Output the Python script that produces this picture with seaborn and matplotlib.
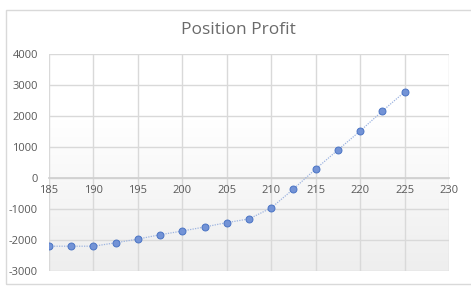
import numpy as np
import pandas as pd
import matplotlib
matplotlib.use("Agg")
import matplotlib.pyplot as plt
import seaborn as sns
from matplotlib.patches import Rectangle

price = [185, 187.5, 190, 192.5, 195, 197.5, 200, 202.5, 205, 207.5,
         210, 212.5, 215, 217.5, 220, 222.5, 225]
profit = [-2200, -2200, -2200, -2090, -1970, -1830, -1710, -1580, -1440, -1320,
          -965, -355, 290, 905, 1515, 2160, 2775]
x_ticks = [185, 190, 195, 200, 205, 210, 215, 220, 225, 230]
y_ticks = [-3000, -2000, -1000, 0, 1000, 2000, 3000, 4000]
title = "Position Profit"

df = pd.DataFrame({"Price": price, "Profit": profit})

sns.set_theme(style="white")
plt.rcParams['font.family'] = ['Open Sans', 'DejaVu Sans']

fig = plt.figure(figsize=(4.71, 2.95), dpi=100)
fig.patch.set_facecolor("white")
W, H = 471, 295
ax = fig.add_axes([49 / W, 1 - 271 / H, (449 - 49) / W, (271 - 54) / H])

# outer chart border
fig.patches.append(Rectangle((6 / W, 1 - 284 / H), 470 / W, (284 - 10) / H,
                             transform=fig.transFigure, fill=False,
                             edgecolor="#d9d9d9", linewidth=1.0))

# gradient background in plot area (white at top, light grey at bottom)
t = np.linspace(0, 1, 256)
g = np.clip(t / 0.7, 0, 1).reshape(-1, 1)
cmap = matplotlib.colors.LinearSegmentedColormap.from_list("g", ["#eeeeee", "#ffffff"])
ax.imshow(g, aspect="auto", cmap=cmap, origin="lower", vmin=0, vmax=1,
          extent=[185, 230, -3000, 4000], zorder=0)

sns.lineplot(data=df, x="Price", y="Profit", ax=ax, color="#9db4e0",
             linestyle=(0, (1, 1)), linewidth=0.9, marker="o", markersize=5,
             markerfacecolor="#7393d6", markeredgecolor="#4a74c4",
             markeredgewidth=0.7, zorder=3)

ax.set_xlim(185, 230)
ax.set_ylim(-3000, 4000)
ax.set_xticks(x_ticks)
ax.set_yticks(y_ticks)
ax.set_xticklabels([str(v) for v in x_ticks])
ax.set_yticklabels([str(v) for v in y_ticks])
ax.grid(True, color="#d9d9d9", linewidth=1.0, zorder=1)
ax.set_axisbelow(True)
for s in ["top", "right", "left"]:
    ax.spines[s].set_visible(False)
ax.spines["bottom"].set_position(("data", 0))
ax.spines["bottom"].set_color("#d0d0d0")
ax.tick_params(axis="both", length=0, labelsize=8, labelcolor="#595959")
ax.tick_params(axis="x", pad=5)
ax.tick_params(axis="y", pad=8)
ax.set_xlabel("")
ax.set_ylabel("")
fig.text(238 / W, 1 - 30 / H, title, ha="center", va="center",
         fontsize=12.5, color="#6a6a6a")

fig.savefig("out.png", dpi=100)
